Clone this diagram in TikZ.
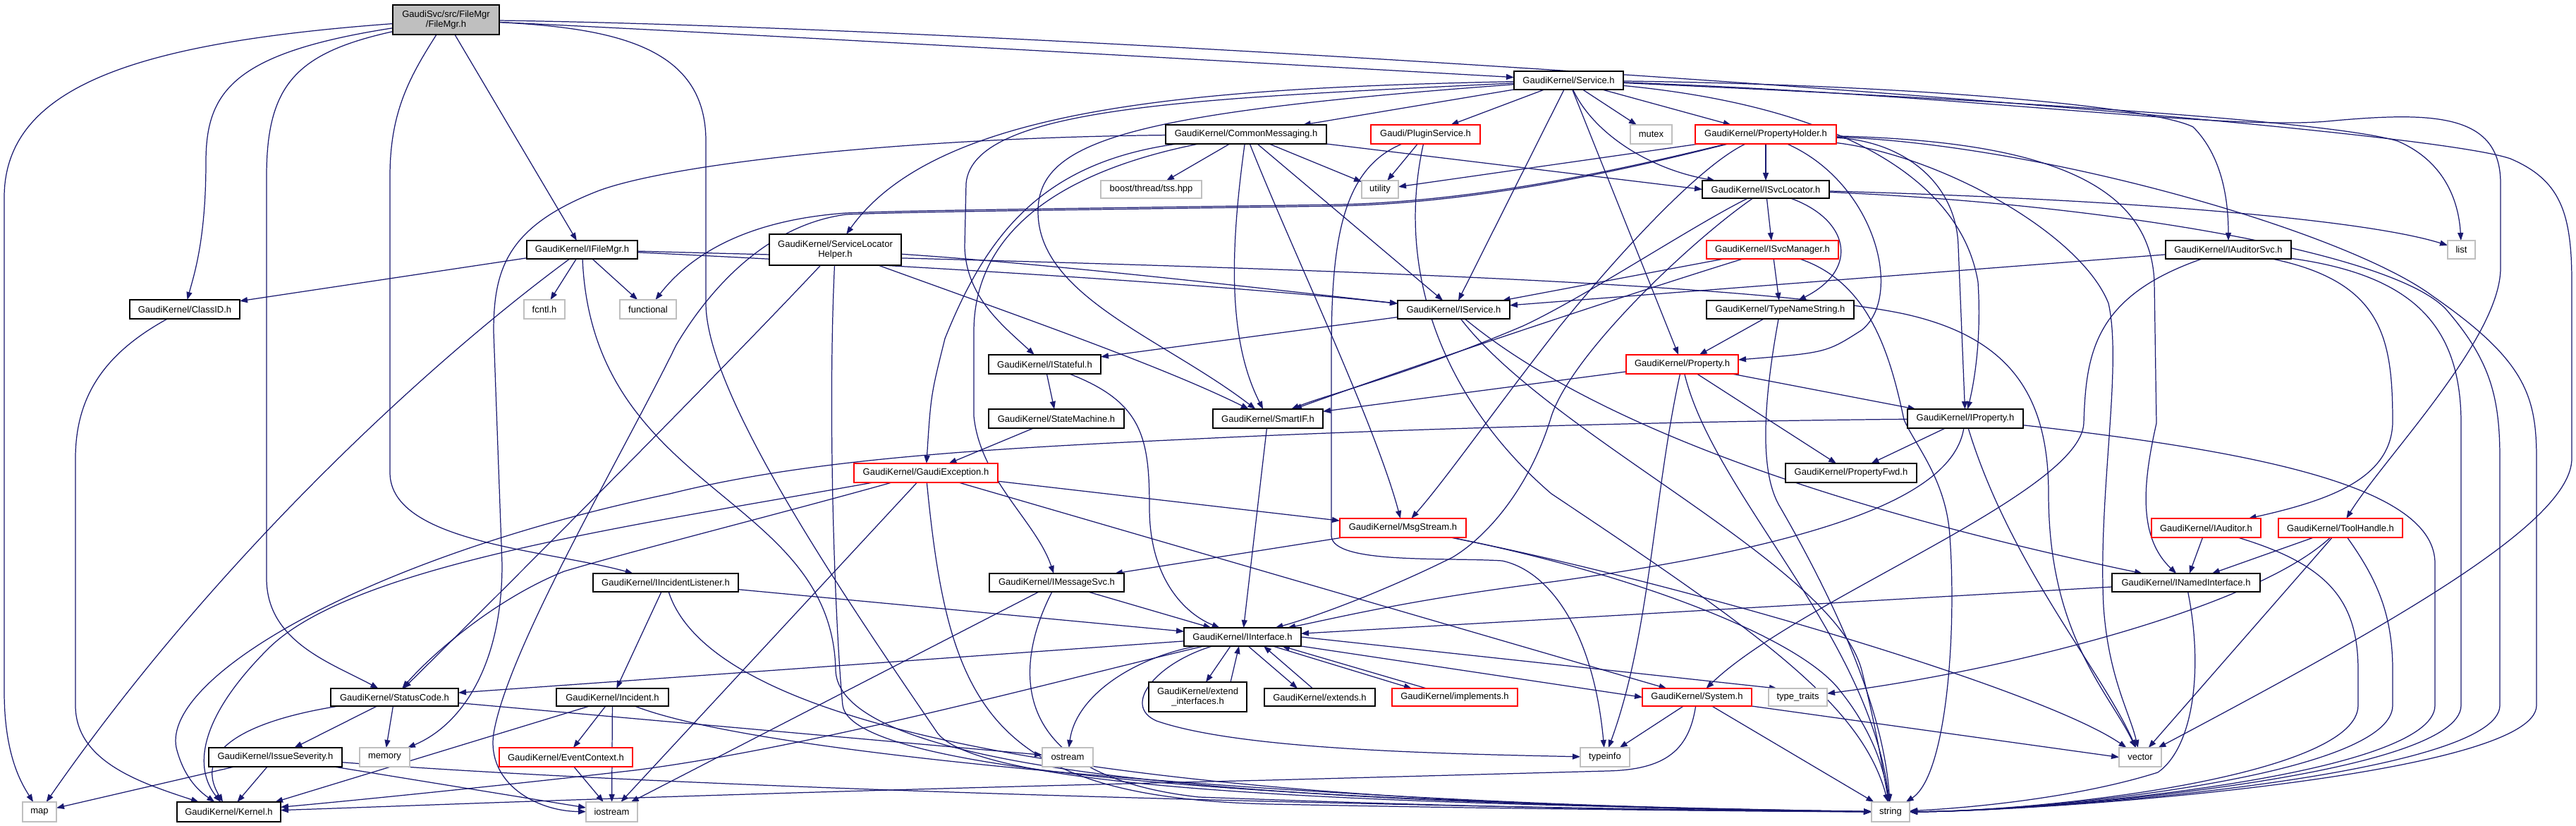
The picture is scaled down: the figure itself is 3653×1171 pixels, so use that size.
\documentclass[tikz,border=0pt]{standalone}
\usepackage{fontspec}
\setmainfont{Liberation Sans}
\usetikzlibrary{arrows.meta}
\definecolor{edgeblue}{HTML}{191970}
\definecolor{boxgrey}{HTML}{BFBFBF}
\pgfdeclarelayer{bg}
\pgfsetlayers{bg,main}
\newcommand{\gfont}{\fontsize{3.7pt}{3.95pt}\selectfont}
\newcommand{\gbox}[7]{\node[#1, minimum width={(#5-#3)*0.01cm}, minimum height={(#6-#4)*0.01cm}] (#2) at ({(#3+#5)/2},{(#4+#6)/2}) {#7};}
\tikzset{
 box/.style={draw=black, fill=white, line width=0.5pt, inner sep=0pt, outer sep=0pt, align=center, font=\gfont},
 blk/.style={box},
 redb/.style={box, draw=red},
 greyb/.style={box, draw=boxgrey},
 rootb/.style={box, fill=boxgrey},
 ed/.style={draw=edgeblue, line width=0.35pt, -{Triangle[length=0.11cm,width=0.08cm]}},
}
\begin{document}
\begin{tikzpicture}[x=0.01cm,y=-0.01cm]
\useasboundingbox (0,0) rectangle (3653,1171);
% nodes
\gbox{rootb}{root}{557}{7}{708}{49}{GaudiSvc/src/FileMgr\\/FileMgr.h}
\gbox{blk}{ifilemgr}{747}{341}{904}{367}{GaudiKernel/IFileMgr.h}
\gbox{blk}{classid}{184}{425}{340}{452}{GaudiKernel/ClassID.h}
\gbox{greyb}{fcntl}{743}{425}{801}{452}{fcntl.h}
\gbox{greyb}{functional}{879}{425}{959}{452}{functional}
\gbox{blk}{slh}{1091}{332}{1278}{376}{GaudiKernel/ServiceLocator\\Helper.h}
\gbox{blk}{cmsg}{1653}{177}{1881}{204}{GaudiKernel/CommonMessaging.h}
\gbox{greyb}{boost}{1561}{256}{1704}{281}{boost/thread/tss.hpp}
\gbox{blk}{istateful}{1402}{503}{1561}{530}{GaudiKernel/IStateful.h}
\gbox{blk}{statemachine}{1402}{580}{1594}{607}{GaudiKernel/StateMachine.h}
\gbox{blk}{smartif}{1720}{580}{1876}{607}{GaudiKernel/SmartIF.h}
\gbox{blk}{service}{2147}{101}{2302}{127}{GaudiKernel/Service.h}
\gbox{redb}{plugin}{1944}{177}{2099}{204}{Gaudi/PluginService.h}
\gbox{greyb}{mutex}{2312}{177}{2371}{204}{mutex}
\gbox{redb}{propholder}{2404}{177}{2604}{204}{GaudiKernel/PropertyHolder.h}
\gbox{greyb}{utility}{1931}{256}{1983}{281}{utility}
\gbox{blk}{isvcloc}{2414}{256}{2594}{281}{GaudiKernel/ISvcLocator.h}
\gbox{redb}{isvcmgr}{2420}{341}{2607}{367}{GaudiKernel/ISvcManager.h}
\gbox{blk}{iservice}{1982}{426}{2141}{452}{GaudiKernel/IService.h}
\gbox{blk}{typename}{2420}{426}{2629}{452}{GaudiKernel/TypeNameString.h}
\gbox{redb}{property}{2306}{503}{2465}{530}{GaudiKernel/Property.h}
\gbox{blk}{iauditorsvc}{3071}{341}{3249}{367}{GaudiKernel/IAuditorSvc.h}
\gbox{greyb}{list}{3471}{341}{3510}{367}{list}
\gbox{blk}{iproperty}{2705}{580}{2869}{607}{GaudiKernel/IProperty.h}
\gbox{blk}{statuscode}{469}{976}{650}{1001}{GaudiKernel/StatusCode.h}
\gbox{blk}{iincident}{841}{813}{1047}{839}{GaudiKernel/IIncidentListener.h}
\gbox{blk}{incident}{789}{976}{948}{1001}{GaudiKernel/Incident.h}
\gbox{blk}{issue}{296}{1060}{485}{1087}{GaudiKernel/IssueSeverity.h}
\gbox{greyb}{memory}{510}{1060}{581}{1087}{memory}
\gbox{redb}{eventctx}{708}{1060}{897}{1087}{GaudiKernel/EventContext.h}
\gbox{greyb}{map}{32}{1137}{80}{1165}{map}
\gbox{blk}{kernel}{251}{1137}{398}{1165}{GaudiKernel/Kernel.h}
\gbox{greyb}{iostream}{831}{1137}{904}{1165}{iostream}
\gbox{redb}{gaudiexc}{1211}{657}{1415}{684}{GaudiKernel/GaudiException.h}
\gbox{blk}{imsgsvc}{1403}{813}{1594}{839}{GaudiKernel/IMessageSvc.h}
\gbox{blk}{interface}{1679}{890}{1845}{916}{GaudiKernel/IInterface.h}
\gbox{blk}{extendif}{1629}{967}{1768}{1009}{GaudiKernel/extend\\\_interfaces.h}
\gbox{blk}{extends}{1793}{976}{1950}{1001}{GaudiKernel/extends.h}
\gbox{greyb}{ostream}{1478}{1060}{1550}{1087}{ostream}
\gbox{redb}{msgstream}{1900}{735}{2079}{762}{GaudiKernel/MsgStream.h}
\gbox{blk}{propfwd}{2532}{657}{2718}{684}{GaudiKernel/PropertyFwd.h}
\gbox{redb}{implements}{1974}{976}{2152}{1001}{GaudiKernel/implements.h}
\gbox{redb}{system}{2329}{976}{2484}{1001}{GaudiKernel/System.h}
\gbox{greyb}{typetraits}{2508}{976}{2591}{1001}{type\_traits}
\gbox{greyb}{typeinfo}{2241}{1060}{2311}{1087}{typeinfo}
\gbox{greyb}{string}{2654}{1137}{2708}{1165}{string}
\gbox{redb}{iauditor}{3051}{735}{3206}{762}{GaudiKernel/IAuditor.h}
\gbox{redb}{toolhandle}{3231}{735}{3407}{762}{GaudiKernel/ToolHandle.h}
\gbox{blk}{inamed}{2995}{813}{3205}{839}{GaudiKernel/INamedInterface.h}
\gbox{greyb}{vector}{3005}{1060}{3065}{1087}{vector}

\begin{pgfonlayer}{bg}
\fill[white] (0,0) rectangle (3653,1171);
% root
\draw[ed] (root) .. controls (200,60) and (6,120) .. (6,280) -- (6,980) .. controls (6,1070) and (30,1110) .. (map);
\draw[ed] (root) .. controls (330,75) and (292,130) .. (292,230) .. controls (292,340) and (275,390) .. (classid);
\draw[ed] (root) .. controls (420,75) and (378,120) .. (378,250) -- (378,820) .. controls (378,910) and (470,940) .. (statuscode);
\draw[ed] (root) .. controls (580,110) and (553,160) .. (553,250) -- (553,670) .. controls (553,770) and (780,780) .. (iincident);
\draw[ed] (root) -- (ifilemgr);
\draw[ed] (root) .. controls (1000,45) and (1800,90) .. (service);
\draw[ed] (root) .. controls (1500,40) and (3400,170) .. (3560,225) .. controls (3630,255) and (3647,300) .. (3647,400) -- (3647,650) .. controls (3647,740) and (3400,880) .. (vector);
\draw[ed] (root) .. controls (880,40) and (1001,70) .. (1001,200) -- (1001,430) .. controls (1001,560) and (1200,850) .. (1330,1040) .. controls (1400,1125) and (2000,1140) .. (string);
% ifilemgr
\draw[ed] (ifilemgr) -- (classid);
\draw[ed] (ifilemgr) .. controls (600,520) and (300,800) .. (map);
\draw[ed] (ifilemgr) -- (fcntl);
\draw[ed] (ifilemgr) -- (functional);
\draw[ed] (ifilemgr) .. controls (840,700) and (1180,700) .. (1185,950) .. controls (1190,1120) and (2000,1140) .. (string);
\draw[ed] (ifilemgr) .. controls (1200,372) and (1700,400) .. (iservice);
\draw[ed] (ifilemgr) .. controls (1500,372) and (2450,392) .. (2700,445) .. controls (2850,478) and (2905,560) .. (2905,700) .. controls (2905,900) and (2990,980) .. (vector);
% classid
\draw[ed] (classid) .. controls (150,500) and (107,560) .. (107,650) -- (107,1000) .. controls (107,1080) and (200,1110) .. (kernel);
% statuscode
\draw[ed] (statuscode) -- (issue);
\draw[ed] (statuscode) -- (memory);
\draw[ed] (statuscode) .. controls (360,1020) and (270,1060) .. (kernel);
\draw[ed] (statuscode) -- (ostream);
% issue
\draw[ed] (issue) -- (map);
\draw[ed] (issue) -- (kernel);
\draw[ed] (issue) -- (iostream);
\draw[ed] (issue) .. controls (1000,1120) and (2000,1145) .. (string);
% incident listener
\draw[ed] (iincident) -- (interface);
\draw[ed] (iincident) -- (incident);
\draw[ed] (iincident) .. controls (1000,1000) and (1400,1140) .. (string);
% incident
\draw[ed] (incident) -- (eventctx);
\draw[ed] ([xshift=-0.325cm]incident.south) -- ([xshift=0.655cm]kernel.north);
\draw[ed] (incident) -- (iostream);
\draw[ed] (incident) .. controls (1100,1080) and (2000,1145) .. (string);
\draw[ed] (eventctx) -- (iostream);
% slh
\draw[ed] (slh) .. controls (1000,550) and (700,850) .. (statuscode);
\draw[ed] (slh) .. controls (1450,450) and (1650,520) .. (smartif);
\draw[ed] (slh) .. controls (1173,600) and (1185,900) .. (1195,1000) .. controls (1210,1110) and (2000,1140) .. (string);
\draw[ed] (slh) .. controls (1500,375) and (1800,410) .. (iservice);
% common messaging
\draw[ed] (cmsg) -- (boost);
\draw[ed] (cmsg) -- (utility);
\draw[ed] (cmsg.south east) -- (isvcloc.west);
\draw[ed] (cmsg) -- (iservice);
\draw[ed] (cmsg) .. controls (1745,350) and (1740,480) .. (smartif);
\draw[ed] (cmsg) .. controls (1830,350) and (1950,600) .. (msgstream);
\draw[ed] (cmsg) .. controls (1470,250) and (1381,350) .. (1381,470) -- (1381,590) .. controls (1390,680) and (1470,740) .. (imsgsvc);
\draw[ed] (cmsg) .. controls (1480,230) and (1400,330) .. (1340,480) .. controls (1320,560) .. (gaudiexc);
\draw[ed] (cmsg) .. controls (1300,195) and (960,230) .. (850,270) .. controls (720,320) and (700,380) .. (700,470) -- (712,800) .. controls (712,950) and (650,1030) .. (memory);
% plugin
\draw[ed] (plugin) -- (utility);
\draw[ed] (plugin) .. controls (1900,240) and (1888,350) .. (1888,500) -- (1888,760) .. controls (1890,800) and (2050,790) .. (2130,795) .. controls (2200,810) and (2260,900) .. (typeinfo);
\draw[ed] (plugin) .. controls (1975,400) and (2060,580) .. (2200,700) .. controls (2500,900) and (2640,1000) .. (string);
% service
\draw[ed] (service) -- (cmsg);
\draw[ed] (service) -- (plugin);
\draw[ed] (service) -- (iservice);
\draw[ed] (service) -- (mutex);
\draw[ed] (service) -- (propholder);
\draw[ed] (service) .. controls (2260,190) and (2340,240) .. (isvcloc);
\draw[ed] (service) -- (property);
\draw[ed] (service) .. controls (1700,125) and (1330,150) .. (slh);
\draw[ed] (service) .. controls (1700,140) and (1380,150) .. (1370,260) -- (1368,350) .. controls (1370,420) and (1420,460) .. (istateful);
\draw[ed] (service) .. controls (1600,160) and (1472,200) .. (1472,300) .. controls (1472,420) and (1650,480) .. (smartif);
\draw[ed] (service) .. controls (2700,120) and (3050,150) .. (3110,180) .. controls (3150,220) and (3160,280) .. (iauditorsvc);
\draw[ed] (service) .. controls (2800,135) and (3150,185) .. (3300,172) .. controls (3450,158) and (3546,160) .. (3546,260) -- (3546,380) .. controls (3546,480) and (3380,650) .. (toolhandle);
\draw[ed] (service) .. controls (2600,150) and (2780,250) .. (2805,400) .. controls (2810,480) and (2800,540) .. (iproperty);
\draw[ed] (service) .. controls (2800,140) and (3300,170) .. (3400,200) .. controls (3470,230) and (3487,290) .. (list);
% property holder
\draw[ed] (propholder) -- (utility);
\draw[ed] (propholder) -- (isvcloc);
\draw[ed] (propholder) .. controls (2660,260) and (2700,420) .. (2640,468) .. controls (2590,500) .. (property);
\draw[ed] (propholder) .. controls (2300,240) and (2100,285) .. (1900,290) .. controls (1500,296) and (1300,298) .. (1200,302) .. controls (1060,312) and (980,360) .. (functional);
\draw[ed] (propholder) .. controls (2300,242) and (2100,287) .. (1900,292) .. controls (1500,298) and (1300,300) .. (1200,304) .. controls (1080,320) and (1000,420) .. (959,489) .. controls (880,650) and (720,920) .. (700,1040) .. controls (690,1110) and (760,1150) .. (iostream);
\draw[ed] (propholder) .. controls (2420,230) and (2320,330) .. (2210,465) .. controls (2120,580) and (2050,680) .. (msgstream);
\draw[ed] (propholder) .. controls (2900,200) and (3050,260) .. (3055,400) -- (3058,600) .. controls (3040,680) and (3030,760) .. (inamed);
\draw[ed] (propholder) .. controls (2700,200) and (2775,260) .. (2777,350) -- (iproperty);
\draw[ed] (propholder) .. controls (2750,220) and (2950,330) .. (2990,430) .. controls (3010,520) and (2975,700) .. (2983,860) .. controls (2990,960) and (3020,1010) .. (vector);
\draw[ed] (propholder) .. controls (2900,205) and (3330,330) .. (3450,420) .. controls (3580,510) and (3597,560) .. (3597,650) -- (3597,1000) .. controls (3597,1100) and (2900,1150) .. (string);
% svc locator
\draw[ed] (isvcloc) -- (isvcmgr);
\draw[ed] (isvcloc) .. controls (2620,310) and (2640,380) .. (typename);
\draw[ed] (isvcloc) .. controls (3000,282) and (3350,310) .. (list);
\draw[ed] (isvcloc) .. controls (2400,320) and (2250,420) .. (2160,462) .. controls (2000,530) and (1880,560) .. (smartif);
\draw[ed] (isvcloc) .. controls (2400,340) and (2230,500) .. (2200,590) .. controls (2170,690) and (2110,760) .. (2060,790) .. controls (1980,830) and (1880,870) .. (interface);
\draw[ed] (isvcloc) .. controls (3000,290) and (3400,360) .. (3470,440) .. controls (3530,510) and (3545,560) .. (3545,650) -- (3545,1000) .. controls (3545,1100) and (2900,1150) .. (string);
% svc manager
\draw[ed] (isvcmgr) -- (iservice);
\draw[ed] (isvcmgr) -- (typename);
\draw[ed] (isvcmgr) .. controls (2300,420) and (2000,520) .. (smartif);
\draw[ed] (isvcmgr) .. controls (2650,400) and (2680,500) .. (2700,595) .. controls (2715,630) and (2760,680) .. (2765,760) .. controls (2775,900) and (2760,1100) .. (string);
% iservice
\draw[ed] (iservice) -- (istateful);
\draw[ed] (iservice) .. controls (2220,570) and (2500,700) .. (inamed);
\draw[ed] (iservice) .. controls (2200,620) and (2600,800) .. (2640,950) .. controls (2660,1030) and (2670,1090) .. (string);
% typename
\draw[ed] (typename) -- (property);
\draw[ed] (typename) .. controls (2495,600) and (2500,680) .. (2525,720) .. controls (2600,850) and (2670,1000) .. (string);
% property
\draw[ed] (property) -- (iproperty);
\draw[ed] (property) -- (propfwd);
\draw[ed] (property) .. controls (2345,700) and (2340,900) .. (typeinfo);
\draw[ed] (property) .. controls (2430,700) and (2650,900) .. (string);
\draw[ed] (property) -- (smartif);
% iproperty
\draw[ed] (iproperty) -- (propfwd);
\draw[ed] (iproperty) .. controls (2770,700) and (2600,770) .. (2200,825) .. controls (2000,850) and (1900,875) .. (interface);
\draw[ed] (iproperty) .. controls (2850,800) and (2980,950) .. (vector);
\draw[ed] (iproperty) .. controls (3200,640) and (3455,690) .. (3453,800) -- (3453,1000) .. controls (3453,1100) and (2900,1150) .. (string);
\draw[ed] (iproperty) .. controls (2300,598) and (1900,612) .. (1700,622) .. controls (1400,636) and (1150,650) .. (950,700) .. controls (520,790) and (230,960) .. (250,1060) .. controls (260,1100) and (280,1120) .. (kernel);
% gaudi exception
\draw[ed] (gaudiexc) .. controls (900,745) and (500,800) .. (380,920) .. controls (280,1020) and (275,1090) .. (kernel);
\draw[ed] (gaudiexc) .. controls (1100,730) and (900,780) .. (800,810) .. controls (700,850) and (610,930) .. (statuscode);
\draw[ed] (gaudiexc) -- (iostream);
\draw[ed] (gaudiexc) .. controls (1345,1000) and (1400,1130) .. (1800,1140) .. controls (2200,1148) and (2500,1150) .. (string);
\draw[ed] (gaudiexc) -- (system);
\draw[ed] (gaudiexc) -- (msgstream);
% stateful etc
\draw[ed] (istateful) -- (statemachine);
\draw[ed] (istateful) .. controls (1620,570) and (1630,620) .. (1630,720) .. controls (1630,820) and (1680,870) .. (interface);
\draw[ed] (statemachine) -- (gaudiexc);
\draw[ed] (smartif) -- (interface);
% msgstream
\draw[ed] (msgstream) -- (imsgsvc);
\draw[ed] (msgstream) .. controls (2300,810) and (2550,900) .. (2610,980) .. controls (2650,1030) and (2670,1080) .. (string);
\draw[ed] (msgstream) .. controls (2400,830) and (2900,980) .. (vector);
% imessagesvc
\draw[ed] (imsgsvc) -- (interface);
\draw[ed] (imsgsvc) -- (iostream);
\draw[ed] (imsgsvc) .. controls (1435,950) and (1430,1100) .. (1700,1130) .. controls (2100,1145) and (2400,1150) .. (string);
% interface
\draw[ed] (interface) -- (statuscode);
\draw[ed] (interface) .. controls (1500,965) and (1150,1060) .. (900,1092) .. controls (700,1115) and (500,1135) .. (kernel);
\draw[ed] (interface) .. controls (1600,935) and (1525,990) .. (ostream);
\draw[ed] (interface) .. controls (1640,940) and (1590,1000) .. (1640,1022) .. controls (1750,1060) and (2000,1068) .. (typeinfo);
\draw[ed] (interface.east) -- ([xshift=0.12cm]typetraits.north west);
\draw[ed] (interface.south east) -- (system.west);
\draw[ed] ([xshift=-0.17cm]interface.south) -- ([xshift=0.115cm]extendif.north);
\draw[ed] ([xshift=0.465cm]extendif.north) -- ([xshift=-0.05cm]interface.south);
\draw[ed] ([xshift=0.08cm]interface.south) -- ([xshift=-0.315cm]extends.north);
\draw[ed] ([xshift=-0.1cm]extends.north) -- ([xshift=0.3cm]interface.south);
\draw[ed] ([xshift=-0.4cm]interface.south east) -- ([xshift=-0.61cm]implements.north);
\draw[ed] ([xshift=-0.4cm]implements.north) -- ([xshift=-0.27cm]interface.south east);
% system
\draw[ed] (system) -- (typeinfo);
\draw[ed] (system) .. controls (2395,1065) and (2360,1091) .. (2280,1093) -- (1800,1106) .. controls (1000,1125) and (600,1142) .. (kernel);
\draw[ed] (system) -- (string);
\draw[ed] (system.south east) -- (vector.west);
% auditor svc
\draw[ed] (iauditorsvc) -- (iservice);
\draw[ed] (iauditorsvc) .. controls (2970,420) and (2958,500) .. (2955,600) .. controls (2950,700) and (2550,850) .. (system);
\draw[ed] (iauditorsvc) .. controls (3380,400) and (3393,480) .. (3393,600) .. controls (3390,680) and (3300,710) .. (iauditor);
\draw[ed] (iauditorsvc) .. controls (3420,390) and (3490,460) .. (3490,600) -- (3490,1000) .. controls (3490,1100) and (2900,1150) .. (string);
% auditor, toolhandle, named interface
\draw[ed] (iauditor) -- (inamed);
\draw[ed] (iauditor) .. controls (3300,800) and (3344,850) .. (3344,950) -- (3344,1000) .. controls (3344,1100) and (2900,1150) .. (string);
\draw[ed] (toolhandle) -- (inamed);
\draw[ed] (toolhandle) -- (vector);
\draw[ed] (toolhandle) .. controls (3200,860) and (2850,950) .. (typetraits);
\draw[ed] (toolhandle) .. controls (3370,820) and (3393,870) .. (3393,950) -- (3393,1000) .. controls (3393,1100) and (2900,1150) .. (string);
\draw[ed] (inamed) -- (interface);
\draw[ed] (inamed) .. controls (3125,950) and (3110,1060) .. (3060,1095) .. controls (2950,1130) and (2800,1145) .. (string);
\end{pgfonlayer}
\end{tikzpicture}
\end{document}
